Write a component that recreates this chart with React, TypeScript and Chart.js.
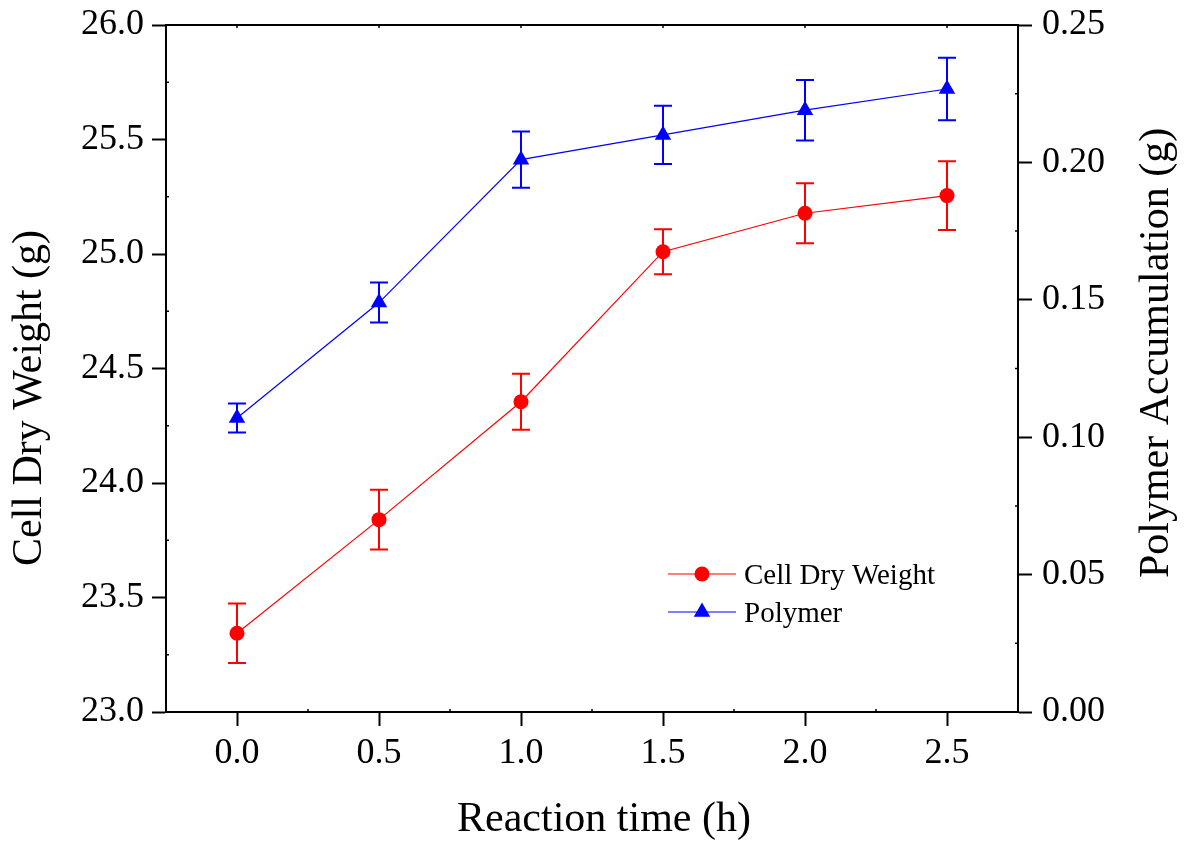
import React, { useEffect, useRef } from 'react';
import { Chart, registerables } from 'chart.js';

Chart.register(...registerables);

// ---- data ----
const reactionTime = [0, 0.5, 1.0, 1.5, 2.0, 2.5];
const cellDryWeight = [23.344, 23.84, 24.355, 25.01, 25.178, 25.255];
const cellDryWeightErr = [0.13, 0.13, 0.122, 0.098, 0.131, 0.15];
const polymer = [0.107, 0.149, 0.201, 0.21, 0.219, 0.2267];
const polymerErr = [0.0053, 0.0073, 0.0102, 0.0106, 0.011, 0.0114];

const xTicks = [0, 0.5, 1.0, 1.5, 2.0, 2.5];
const leftTicks = [23.0, 23.5, 24.0, 24.5, 25.0, 25.5, 26.0];
const rightTicks = [0.0, 0.05, 0.1, 0.15, 0.2, 0.25];

const xTitle = 'Reaction time (h)';
const leftTitle = 'Cell Dry Weight (g)';
const rightTitle = 'Polymer Accumulation (g)';
const seriesLabels = ['Cell Dry Weight', 'Polymer'];

const SERIF = "'Liberation Serif', 'Times New Roman', serif";
const RED = '#FF0000';
const BLUE = '#0000FF';

const midpoints = (arr: number[]) => arr.slice(1).map((v, i) => (v + arr[i]) / 2);

function drawMarker(ctx: CanvasRenderingContext2D, style: string, x: number, y: number, r: number, color: string) {
  ctx.save();
  ctx.fillStyle = color;
  ctx.beginPath();
  if (style === 'triangle') {
    let rad = 0;
    ctx.moveTo(x + Math.sin(rad) * r, y - Math.cos(rad) * r);
    rad += (2 * Math.PI) / 3;
    ctx.lineTo(x + Math.sin(rad) * r, y - Math.cos(rad) * r);
    rad += (2 * Math.PI) / 3;
    ctx.lineTo(x + Math.sin(rad) * r, y - Math.cos(rad) * r);
    ctx.closePath();
  } else {
    ctx.arc(x, y, r, 0, Math.PI * 2);
  }
  ctx.fill();
  ctx.restore();
}

const errorBarPlugin = {
  id: 'errorBars',
  beforeDatasetsDraw(chart: any) {
    const ctx = chart.ctx;
    const xs = chart.scales.x;
    const errs = [cellDryWeightErr, polymerErr];
    chart.data.datasets.forEach((ds: any, i: number) => {
      const ys = chart.scales[ds.yAxisID];
      ctx.save();
      ctx.strokeStyle = ds.borderColor;
      ctx.lineWidth = 2;
      ds.data.forEach((p: any, j: number) => {
        const px = xs.getPixelForValue(p.x);
        const top = ys.getPixelForValue(p.y + errs[i][j]);
        const bot = ys.getPixelForValue(p.y - errs[i][j]);
        ctx.beginPath();
        ctx.moveTo(px, top);
        ctx.lineTo(px, bot);
        ctx.moveTo(px - 9, top);
        ctx.lineTo(px + 9, top);
        ctx.moveTo(px - 9, bot);
        ctx.lineTo(px + 9, bot);
        ctx.stroke();
      });
      ctx.restore();
    });
  },
};

const decorPlugin = {
  id: 'decor',
  afterDraw(chart: any) {
    const ctx = chart.ctx;
    const a = chart.chartArea;
    const xs = chart.scales.x;
    const yl = chart.scales.y;
    const yr = chart.scales.y1;
    ctx.save();
    // top frame
    ctx.strokeStyle = '#000';
    ctx.lineWidth = 2;
    ctx.beginPath();
    ctx.moveTo(a.left - 1, a.top);
    ctx.lineTo(a.right + 1, a.top);
    ctx.stroke();
    // minor ticks (inward)
    ctx.lineWidth = 1.5;
    ctx.beginPath();
    midpoints(leftTicks).forEach((v) => {
      const p = yl.getPixelForValue(v);
      ctx.moveTo(a.left, p);
      ctx.lineTo(a.left + 3, p);
    });
    midpoints(rightTicks).forEach((v) => {
      const p = yr.getPixelForValue(v);
      ctx.moveTo(a.right, p);
      ctx.lineTo(a.right - 3, p);
    });
    [-0.25, ...midpoints(xTicks), 2.75].forEach((v) => {
      const p = xs.getPixelForValue(v);
      if (p > a.left + 2 && p < a.right - 2) {
        ctx.moveTo(p, a.bottom);
        ctx.lineTo(p, a.bottom - 3);
      }
    });
    xTicks.forEach((v) => {
      const p = xs.getPixelForValue(v);
      ctx.moveTo(p, a.top);
      ctx.lineTo(p, a.top + 3);
    });
    ctx.stroke();

    // axis titles
    ctx.fillStyle = '#000';
    ctx.font = `42px ${SERIF}`;
    ctx.textAlign = 'center';
    ctx.textBaseline = 'alphabetic';
    ctx.fillText(xTitle, a.left + 438, a.bottom + 119);

    ctx.save();
    ctx.translate(a.left - 125, a.top + 373);
    ctx.rotate(-Math.PI / 2);
    ctx.fillText(leftTitle, 0, 0);
    ctx.restore();

    ctx.save();
    ctx.translate(a.right + 150, a.top + 328);
    ctx.rotate(-Math.PI / 2);
    ctx.fillText(rightTitle, 0, 0);
    ctx.restore();

    // legend
    const lx0 = a.left + 502;
    const lx1 = a.left + 570;
    const mx = a.left + 536;
    const tx = a.left + 578;
    const rows = [a.top + 549, a.top + 587];
    ctx.font = `29px ${SERIF}`;
    ctx.textAlign = 'left';
    chart.data.datasets.forEach((ds: any, i: number) => {
      const y = rows[i];
      ctx.strokeStyle = ds.borderColor;
      ctx.lineWidth = 1.2;
      ctx.beginPath();
      ctx.moveTo(lx0, y);
      ctx.lineTo(lx1, y);
      ctx.stroke();
      drawMarker(ctx, ds.pointStyle, mx, y, ds.pointRadius, ds.backgroundColor);
      ctx.fillStyle = '#000';
      ctx.fillText(seriesLabels[i], tx, y + 10);
    });
    ctx.restore();
  },
};

const gridCfg = {
  display: true,
  drawOnChartArea: false,
  drawTicks: true,
  tickLength: 14,
  tickWidth: 2,
  tickColor: '#000',
};
const borderCfg = { display: true, width: 2, color: '#000' };
const tickFont = { family: SERIF, size: 36 };

const fixY = (w: number) => (s: any) => {
  s.width = w;
  s.paddingTop = 0;
  s.paddingBottom = 0;
};

export default function App() {
  const ref = useRef<HTMLCanvasElement | null>(null);

  useEffect(() => {
    if (!ref.current) return;
    const chart = new Chart(ref.current, {
      type: 'line',
      data: {
        datasets: [
          {
            label: seriesLabels[0],
            data: reactionTime.map((x, i) => ({ x, y: cellDryWeight[i] })),
            borderColor: RED,
            backgroundColor: RED,
            pointStyle: 'circle',
            pointRadius: 7.5,
            pointBorderWidth: 0,
            borderWidth: 1.2,
            yAxisID: 'y',
            tension: 0,
          },
          {
            label: seriesLabels[1],
            data: reactionTime.map((x, i) => ({ x, y: polymer[i] })),
            borderColor: BLUE,
            backgroundColor: BLUE,
            pointStyle: 'triangle',
            pointRadius: 9.5,
            pointBorderWidth: 0,
            borderWidth: 1.2,
            yAxisID: 'y1',
            tension: 0,
          },
        ],
      } as any,
      options: {
        responsive: false,
        animation: false,
        layout: { padding: { top: 25, left: 0, right: 0, bottom: 0 } },
        plugins: {
          legend: { display: false },
          tooltip: { enabled: false },
          title: { display: false },
        },
        scales: {
          x: {
            type: 'linear',
            position: 'bottom',
            min: -0.25,
            max: 2.75,
            afterBuildTicks: (s: any) => {
              s.ticks = xTicks.map((v) => ({ value: v }));
            },
            afterFit: (s: any) => {
              s.height = 129;
              s.paddingLeft = 0;
              s.paddingRight = 0;
            },
            ticks: {
              font: tickFont,
              color: '#000',
              padding: 6,
              maxRotation: 0,
              autoSkip: false,
              callback: (v: any) => Number(v).toFixed(1),
            },
            grid: gridCfg,
            border: borderCfg,
          },
          y: {
            type: 'linear',
            position: 'left',
            min: 23,
            max: 26,
            afterBuildTicks: (s: any) => {
              s.ticks = leftTicks.map((v) => ({ value: v }));
            },
            afterFit: fixY(166),
            ticks: {
              font: tickFont,
              color: '#000',
              padding: 8,
              autoSkip: false,
              callback: (v: any) => Number(v).toFixed(1),
            },
            grid: gridCfg,
            border: borderCfg,
          },
          y1: {
            type: 'linear',
            position: 'right',
            min: 0,
            max: 0.25,
            afterBuildTicks: (s: any) => {
              s.ticks = rightTicks.map((v) => ({ value: v }));
            },
            afterFit: fixY(178),
            ticks: {
              font: tickFont,
              color: '#000',
              padding: 10,
              autoSkip: false,
              callback: (v: any) => Number(v).toFixed(2),
            },
            grid: gridCfg,
            border: borderCfg,
          },
        },
      } as any,
      plugins: [errorBarPlugin, decorPlugin],
    });
    return () => chart.destroy();
  }, []);

  return (
    <div style={{ position: 'absolute', left: 0, top: 0, width: 1196, height: 841, background: '#fff' }}>
      <canvas ref={ref} width={1196} height={841} style={{ display: 'block' }} />
    </div>
  );
}
